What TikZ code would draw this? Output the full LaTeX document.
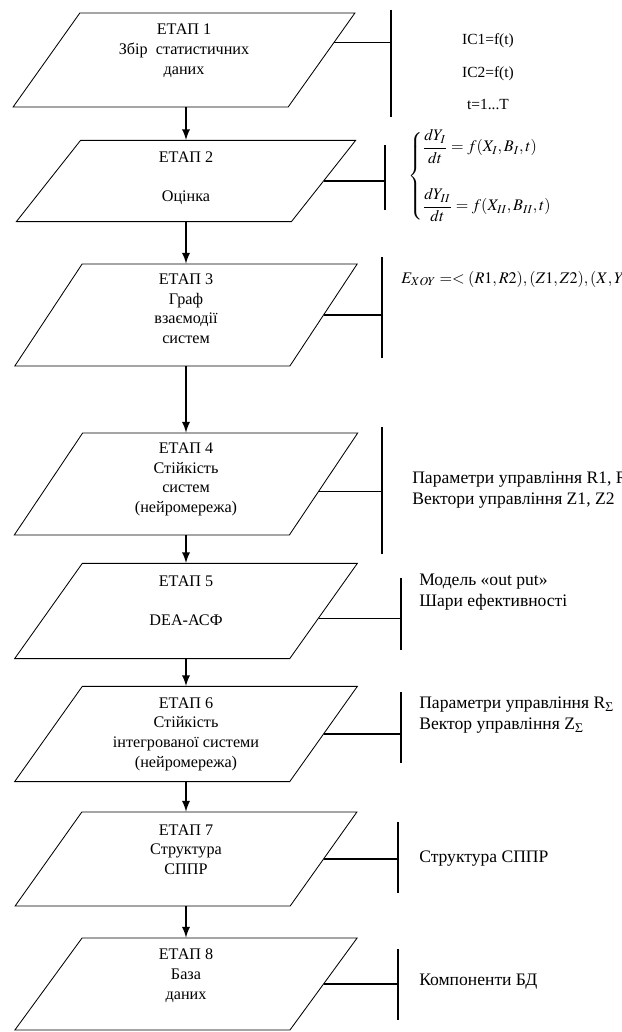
\documentclass[tikz,border=0pt]{standalone}
\usepackage{amsmath}
\usepackage{mathptmx}
\usepackage{fontspec}
\setmainfont{Liberation Serif}
\usetikzlibrary{arrows,positioning,calc}

\tikzset{
  stage/.style={draw,line width=0.6pt,rectangle,inner sep=0pt,
    minimum width=6.875cm,xslant=#1,transform shape},
  stage/.default=0.71,
  stagetxt/.style={align=center,inner sep=0pt,font=\fontsize{11.5}{14}\selectfont},
  note/.style={anchor=west,align=left,inner sep=0pt,font=\fontsize{12.5}{15}\selectfont},
  flow/.style={->,line width=1.6pt},
  link/.style={line width=0.8pt}
}

\begin{document}
\begin{tikzpicture}[>=latex,x=0.025cm,y=-0.025cm]
   \useasboundingbox (0,0) rectangle (621,1032);

   \node[stage,minimum height=2.35cm] (s1) at (184,60) {};
   \node[stage=0.79,minimum height=2.03cm] (s2) at (186,181) {};
   \node[stage=0.66,minimum height=2.55cm] (s3) at (186,315) {};
   \node[stage=0.67,minimum height=2.55cm] (s4) at (186,484) {};
   \node[stage,minimum height=2.38cm] (s5) at (186,611) {};
   \node[stage,minimum height=2.38cm] (s6) at (186,734) {};
   \node[stage,minimum height=2.35cm] (s7) at (186,859) {};
   \node[stage=0.73,minimum height=2.3cm] (s8) at (186,984) {};

   \node[stagetxt,below=8pt of s1.center |- s1.north] (t1) {ЕТАП 1\\Збір\ \ статистичних\\даних};
   \node[stagetxt,below=8pt of s2.center |- s2.north] (t2) {ЕТАП 2\\[14pt]Оцінка};
   \node[stagetxt,below=7pt of s3.center |- s3.north] (t3) {ЕТАП 3\\Граф\\взаємодії\\систем};
   \node[stagetxt,below=7pt of s4.center |- s4.north] (t4) {ЕТАП 4\\Стійкість\\систем\\(нейромережа)};
   \node[stagetxt,below=9pt of s5.center |- s5.north] (t5) {ЕТАП 5\\[14pt]DEA-АСФ};
   \node[stagetxt,below=8pt of s6.center |- s6.north] (t6) {ЕТАП 6\\Стійкість\\інтегрованої системи\\(нейромережа)};
   \node[stagetxt,below=9pt of s7.center |- s7.north] (t7) {ЕТАП 7\\Структура\\СППР};
   \node[stagetxt,below=8pt of s8.center |- s8.north] (t8) {ЕТАП 8\\База\\даних};

   \node[align=center,inner sep=0pt,font=\fontsize{11}{14}\selectfont] (n1) at (488,72)
      {IC1=f(t)\\[9pt]IC2=f(t)\\[9pt]t=1...T};
   \node[note,font=\fontsize{11.5}{14}\selectfont] (n2) at (408,176) {$\left\{\begin{array}{@{}l@{}}
      \dfrac{dY_I}{dt}=f(X_I,B_I,t)\\[22pt]
      \dfrac{dY_{II}}{dt}=f(X_{II},B_{II},t)\end{array}\right.$};
   \node[note,font=\fontsize{11.5}{14}\selectfont] (n3) at (401,279) {$E_{XOY}=<(R1,R2),(Z1,Z2),(X,Y)>$};
   \node[note] (n4) at (412,490) {Параметри управління R1, R2\\Вектори управління Z1, Z2};
   \node[note] (n5) at (419,592) {Модель «out put»\\Шари ефективності};
   \node[note] (n6) at (419,715) {Параметри управління R$_\Sigma$\\Вектор управління Z$_\Sigma$};
   \node[note] (n7) at (419,859) {Структура СППР};
   \node[note] (n8) at (419,982) {Компоненти БД};

   \coordinate (v1a) at (391,10);  \coordinate (v1b) at (391,117);
   \coordinate (v2a) at (385,145); \coordinate (v2b) at (385,210);
   \coordinate (v3a) at (382,257); \coordinate (v3b) at (382,358);
   \coordinate (v4a) at (382,427); \coordinate (v4b) at (382,554);
   \coordinate (v5a) at (401,578); \coordinate (v5b) at (401,650);
   \coordinate (v6a) at (401,692); \coordinate (v6b) at (401,763);
   \coordinate (v7a) at (398,822); \coordinate (v7b) at (398,893);
   \coordinate (v8a) at (398,949); \coordinate (v8b) at (398,1020);

   \coordinate (c1) at ($(s1.north east)!0.32!(s1.south east)$);
   \coordinate (c4) at ($(s4.north east)!0.57!(s4.south east)$);
   \coordinate (c5) at ($(s5.north east)!0.58!(s5.south east)$);

   \draw[flow] (s2.center |- s1.south) -- (s2.center |- s2.north);
   \draw[flow] (s2.center |- s2.south) -- (s3.center |- s3.north);
   \draw[flow] (s3.center |- s3.south) -- (s4.center |- s4.north);
   \draw[flow] (s4.center |- s4.south) -- (s5.center |- s5.north);
   \draw[flow] (s5.center |- s5.south) -- (s6.center |- s6.north);
   \draw[flow] (s6.center |- s6.south) -- (s7.center |- s7.north);
   \draw[flow] (s7.center |- s7.south) -- (s8.center |- s8.north);

   \draw[link] (v1a) -- (v1b);
   \draw[link] (v2a) -- (v2b);
   \draw[link] (v3a) -- (v3b);
   \draw[link] (v4a) -- (v4b);
   \draw[link] (v5a) -- (v5b);
   \draw[link] (v6a) -- (v6b);
   \draw[link] (v7a) -- (v7b);
   \draw[link] (v8a) -- (v8b);

   \draw[link] (c1) -- (c1 -| v1a);
   \draw[link] (s2.east) -- (s2.east -| v2a);
   \draw[link] (s3.east) -- (s3.east -| v3a);
   \draw[link] (c4) -- (c4 -| v4a);
   \draw[link] (c5) -- (c5 -| v5a);
   \draw[link] (s6.east) -- (s6.east -| v6a);
   \draw[link] (s7.east) -- (s7.east -| v7a);
   \draw[link] (s8.east) -- (s8.east -| v8a);
\end{tikzpicture}
\end{document}
